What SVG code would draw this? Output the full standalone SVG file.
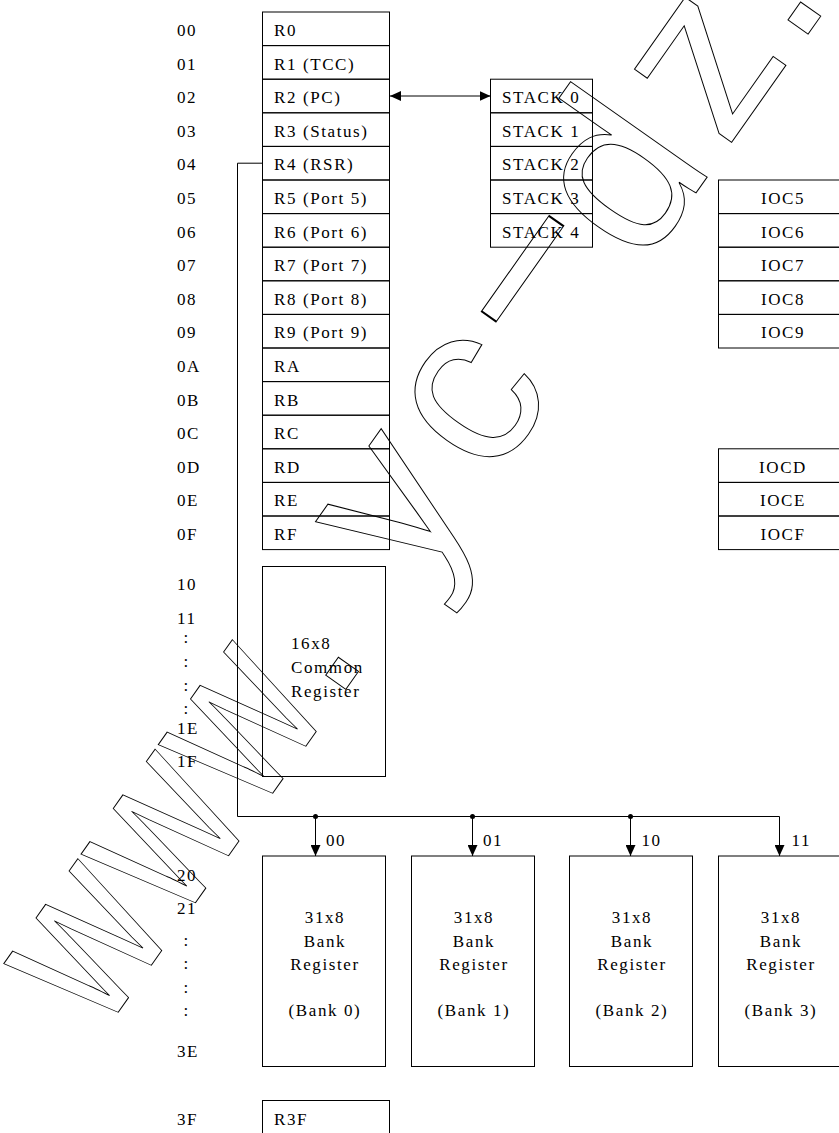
<svg xmlns="http://www.w3.org/2000/svg" width="839" height="1133" viewBox="0 0 839 1133">
<style>
.t{font-family:"Liberation Serif","Times New Roman",serif;font-size:17px;letter-spacing:1.6px;fill:#000}
.m{text-anchor:middle}
.box{fill:none;stroke:#000;stroke-width:1}
.ln{fill:none;stroke:#000;stroke-width:1}
.wm{font-family:"Liberation Sans",Arial,sans-serif;font-size:230px;fill:none;stroke:#000;stroke-width:1}
</style>
<defs>
<marker id="ah" viewBox="0 0 11 10" refX="11" refY="5" markerWidth="11" markerHeight="10" markerUnits="userSpaceOnUse" orient="auto-start-reverse"><path d="M0,0 L11,5 L0,10 z" fill="#000"/></marker>
</defs>
<rect width="839" height="1133" fill="#fff"/>

<g id="addresses" class="t">
<text x="177" y="36">00</text>
<text x="177" y="69.6">01</text>
<text x="177" y="103.2">02</text>
<text x="177" y="136.8">03</text>
<text x="177" y="170.4">04</text>
<text x="177" y="204">05</text>
<text x="177" y="237.6">06</text>
<text x="177" y="271.2">07</text>
<text x="177" y="304.8">08</text>
<text x="177" y="338.4">09</text>
<text x="177" y="372">0A</text>
<text x="177" y="405.6">0B</text>
<text x="177" y="439.2">0C</text>
<text x="177" y="472.8">0D</text>
<text x="177" y="506.4">0E</text>
<text x="177" y="540">0F</text>
<text x="177" y="590">10</text>
<text x="177" y="624">11</text>
<text x="183.5" y="643">:</text>
<text x="183.5" y="667">:</text>
<text x="183.5" y="691">:</text>
<text x="183.5" y="714">:</text>
<text x="177" y="734">1E</text>
<text x="177" y="767">1F</text>
<text x="177" y="881">20</text>
<text x="177" y="914">21</text>
<text x="183.5" y="946">:</text>
<text x="183.5" y="969">:</text>
<text x="183.5" y="993">:</text>
<text x="183.5" y="1016">:</text>
<text x="177" y="1057">3E</text>
<text x="177" y="1125">3F</text>
</g>

<g id="r0"><rect class="box" x="262.5" y="12" width="127" height="33.6"/><text class="t" x="274" y="36">R0</text></g>
<g id="r1"><rect class="box" x="262.5" y="45.6" width="127" height="33.6"/><text class="t" x="274" y="69.6">R1 (TCC)</text></g>
<g id="r2"><rect class="box" x="262.5" y="79.2" width="127" height="33.6"/><text class="t" x="274" y="103.2">R2 (PC)</text></g>
<g id="r3"><rect class="box" x="262.5" y="112.8" width="127" height="33.6"/><text class="t" x="274" y="136.8">R3 (Status)</text></g>
<g id="r4"><rect class="box" x="262.5" y="146.4" width="127" height="33.6"/><text class="t" x="274" y="170.4">R4 (RSR)</text></g>
<g id="r5"><rect class="box" x="262.5" y="180" width="127" height="33.6"/><text class="t" x="274" y="204">R5 (Port 5)</text></g>
<g id="r6"><rect class="box" x="262.5" y="213.6" width="127" height="33.6"/><text class="t" x="274" y="237.6">R6 (Port 6)</text></g>
<g id="r7"><rect class="box" x="262.5" y="247.2" width="127" height="33.6"/><text class="t" x="274" y="271.2">R7 (Port 7)</text></g>
<g id="r8"><rect class="box" x="262.5" y="280.8" width="127" height="33.6"/><text class="t" x="274" y="304.8">R8 (Port 8)</text></g>
<g id="r9"><rect class="box" x="262.5" y="314.4" width="127" height="33.6"/><text class="t" x="274" y="338.4">R9 (Port 9)</text></g>
<g id="ra"><rect class="box" x="262.5" y="348" width="127" height="33.6"/><text class="t" x="274" y="372">RA</text></g>
<g id="rb"><rect class="box" x="262.5" y="381.6" width="127" height="33.6"/><text class="t" x="274" y="405.6">RB</text></g>
<g id="rc"><rect class="box" x="262.5" y="415.2" width="127" height="33.6"/><text class="t" x="274" y="439.2">RC</text></g>
<g id="rd"><rect class="box" x="262.5" y="448.8" width="127" height="33.6"/><text class="t" x="274" y="472.8">RD</text></g>
<g id="re"><rect class="box" x="262.5" y="482.4" width="127" height="33.6"/><text class="t" x="274" y="506.4">RE</text></g>
<g id="rf"><rect class="box" x="262.5" y="516" width="127" height="33.6"/><text class="t" x="274" y="540">RF</text></g>

<g id="stack0"><rect class="box" x="490.5" y="79.2" width="102" height="33.6"/><text class="t" x="502" y="103.2">STACK 0</text></g>
<g id="stack1"><rect class="box" x="490.5" y="112.8" width="102" height="33.6"/><text class="t" x="502" y="136.8">STACK 1</text></g>
<g id="stack2"><rect class="box" x="490.5" y="146.4" width="102" height="33.6"/><text class="t" x="502" y="170.4">STACK 2</text></g>
<g id="stack3"><rect class="box" x="490.5" y="180" width="102" height="33.6"/><text class="t" x="502" y="204">STACK 3</text></g>
<g id="stack4"><rect class="box" x="490.5" y="213.6" width="102" height="33.6"/><text class="t" x="502" y="237.6">STACK 4</text></g>

<g id="ioc5"><rect class="box" x="718.5" y="180" width="130" height="33.6"/><text class="t m" x="783" y="204">IOC5</text></g>
<g id="ioc6"><rect class="box" x="718.5" y="213.6" width="130" height="33.6"/><text class="t m" x="783" y="237.6">IOC6</text></g>
<g id="ioc7"><rect class="box" x="718.5" y="247.2" width="130" height="33.6"/><text class="t m" x="783" y="271.2">IOC7</text></g>
<g id="ioc8"><rect class="box" x="718.5" y="280.8" width="130" height="33.6"/><text class="t m" x="783" y="304.8">IOC8</text></g>
<g id="ioc9"><rect class="box" x="718.5" y="314.4" width="130" height="33.6"/><text class="t m" x="783" y="338.4">IOC9</text></g>
<g id="iocd"><rect class="box" x="718.5" y="448.8" width="130" height="33.6"/><text class="t m" x="783" y="472.8">IOCD</text></g>
<g id="ioce"><rect class="box" x="718.5" y="482.4" width="130" height="33.6"/><text class="t m" x="783" y="506.4">IOCE</text></g>
<g id="iocf"><rect class="box" x="718.5" y="516" width="130" height="33.6"/><text class="t m" x="783" y="540">IOCF</text></g>

<g id="common"><rect class="box" x="262.5" y="566.5" width="123" height="210"/>
<text class="t" x="291" y="649">16x8</text><text class="t" x="291" y="673">Common</text><text class="t" x="291" y="696.5">Register</text></g>

<g id="bank0"><rect class="box" x="262.5" y="856" width="123" height="210.5"/>
<text class="t m" x="325" y="923">31x8</text><text class="t m" x="325" y="946.5">Bank</text><text class="t m" x="325" y="970">Register</text><text class="t m" x="325" y="1016">(Bank 0)</text></g>
<g id="bank1"><rect class="box" x="411.5" y="856" width="123" height="210.5"/>
<text class="t m" x="474" y="923">31x8</text><text class="t m" x="474" y="946.5">Bank</text><text class="t m" x="474" y="970">Register</text><text class="t m" x="474" y="1016">(Bank 1)</text></g>
<g id="bank2"><rect class="box" x="569.5" y="856" width="123" height="210.5"/>
<text class="t m" x="632" y="923">31x8</text><text class="t m" x="632" y="946.5">Bank</text><text class="t m" x="632" y="970">Register</text><text class="t m" x="632" y="1016">(Bank 2)</text></g>
<g id="bank3"><rect class="box" x="718.5" y="856" width="130" height="210.5"/>
<text class="t m" x="781" y="923">31x8</text><text class="t m" x="781" y="946.5">Bank</text><text class="t m" x="781" y="970">Register</text><text class="t m" x="781" y="1016">(Bank 3)</text></g>

<g id="r3f"><rect class="box" x="262.5" y="1100.5" width="127" height="40"/><text class="t" x="274" y="1125">R3F</text></g>

<g id="connectors">
<line class="ln" x1="390" y1="96" x2="490.5" y2="96" marker-start="url(#ah)" marker-end="url(#ah)"/>
<path class="ln" d="M262.5,163.2 H237.5 V816.5 H779.5 V856" marker-end="url(#ah)"/>
<path class="ln" d="M315.5,816.5 V856" marker-end="url(#ah)"/>
<path class="ln" d="M472.5,816.5 V856" marker-end="url(#ah)"/>
<path class="ln" d="M630.5,816.5 V856" marker-end="url(#ah)"/>
<circle cx="315.5" cy="816.5" r="2.5" fill="#000"/>
<circle cx="472.5" cy="816.5" r="2.5" fill="#000"/>
<circle cx="630.5" cy="816.5" r="2.5" fill="#000"/>
<g class="t"><text x="326" y="846">00</text><text x="483" y="846">01</text><text x="641.5" y="846">10</text><text x="791.5" y="846">11</text></g>
</g>

<g id="watermark" class="wm" transform="rotate(-54.8)">
<text transform="scale(0.77,1)" x="-1019.5 -845.5 -671.4" y="680">www</text>
<text x="-385 -245 -112" y="680">.yc</text>
<text transform="translate(2,643) scale(2.08,1)" x="0" y="0">-</text>
<text x="150 296 417" y="680">dz.</text>
</g>
</svg>
